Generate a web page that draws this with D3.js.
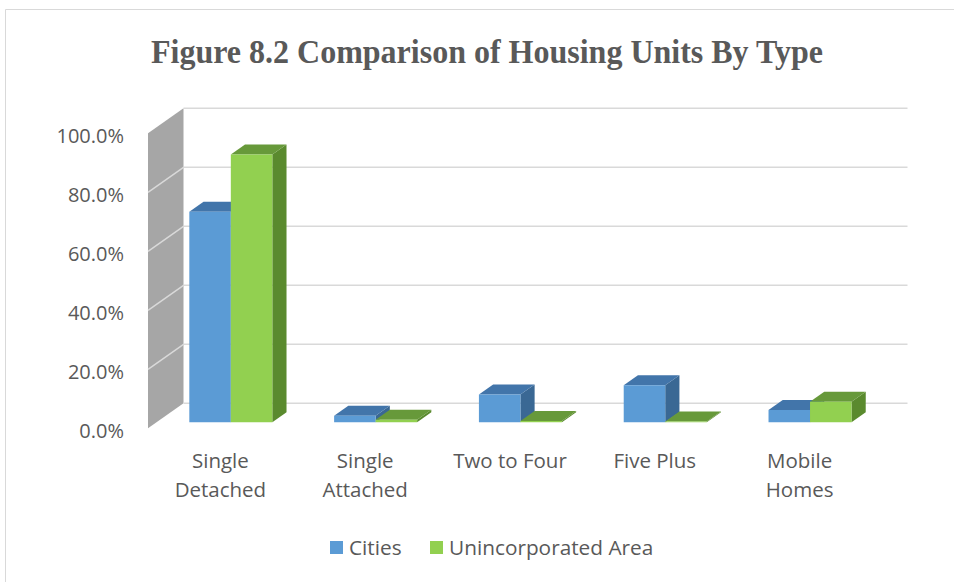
<!DOCTYPE html>
<html>
<head>
<meta charset="utf-8">
<script src="https://cdn.jsdelivr.net/npm/d3@7"></script>
<style>
  html, body { margin: 0; padding: 0; background: #ffffff; }
  svg { display: block; }
</style>
</head>
<body>
<script>
// ---- Data ----
const categories = ["Single Detached", "Single Attached", "Two to Four", "Five Plus", "Mobile Homes"];
const categoryLines = [["Single", "Detached"], ["Single", "Attached"], ["Two to Four"], ["Five Plus"], ["Mobile", "Homes"]];
const seriesNames = ["Cities", "Unincorporated Area"];
const cities = [71.4, 2.2, 9.4, 12.6, 4.2];
const unincorporated = [90.8, 0.9, 0.4, 0.3, 7.0];
const tickValues = [0, 20, 40, 60, 80, 100];
const tickLabels = ["0.0%", "20.0%", "40.0%", "60.0%", "80.0%", "100.0%"];
const titleText = "Figure 8.2 Comparison of Housing Units By Type";

// ---- Styles ----
const W = 954, H = 582;
const colors = {
  "Cities": { front: "#5B9BD5", top: "#4275AA", side: "#3A6894" },
  "Unincorporated Area": { front: "#92D050", top: "#67993A", side: "#5A8A2E" }
};
const textColor = "#595959";

const svg = d3.select("body").append("svg").attr("width", W).attr("height", H);

// border
svg.append("path").attr("d", `M5.5,${H} V9.5 H${W}`).attr("fill", "none")
  .attr("stroke", "#D9D9D9").attr("stroke-width", 1);

// title
svg.append("text").attr("x", 487).attr("y", 63).attr("text-anchor", "middle")
  .attr("font-family", "'Liberation Serif', 'Times New Roman', serif")
  .attr("font-weight", "bold").attr("font-size", 34).attr("fill", textColor)
  .attr("textLength", 672).attr("lengthAdjust", "spacingAndGlyphs")
  .text(titleText);

// ---- Scales / projection ----
const y = d3.scaleLinear().domain([0, 100]).range([428.3, 133.3]);
const x = d3.scaleBand().domain(categories).range([148, 872]);
const xs = d3.scaleBand().domain(seriesNames).range([32.8, 32.8 + 83]);
const depth = d3.scaleLinear().domain([0, 1]).range([0, 1]);
const DX = 35.5, DY = -25;
const d0 = 0.24, d1 = 0.64;
const P = (px, v, d) => [px + DX * depth(d), y(v) + DY * depth(d)];
const poly = pts => "M" + pts.map(p => p.join(",")).join("L") + "Z";

// side wall
const x0 = x.range()[0], x1 = x.range()[1];
svg.append("path")
  .attr("d", poly([P(x0, 0, 0), P(x0, 0, 1), P(x0, 100, 1), P(x0, 100, 0)]))
  .attr("fill", "#A6A6A6");

// wall lines and back gridlines
tickValues.forEach(t => {
  if (t > 0 && t < 100) {
    const a = P(x0, t, 0), b = P(x0, t, 1);
    svg.append("line").attr("x1", a[0]).attr("y1", a[1]).attr("x2", b[0]).attr("y2", b[1])
      .attr("stroke", "#D9D9D9").attr("stroke-width", 1.5);
  }
  const c = P(x0, t, 1), e = P(x1, t, 1);
  svg.append("line").attr("x1", c[0]).attr("y1", c[1]).attr("x2", e[0]).attr("y2", e[1])
    .attr("stroke", "#D9D9D9").attr("stroke-width", 1.5);
});

// tick labels
const labelFont = "'Open Sans', 'Noto Sans', sans-serif";
tickValues.forEach((t, i) => {
  svg.append("text").attr("x", 124).attr("y", y(t) + 3).attr("dy", "0.35em")
    .attr("text-anchor", "end").attr("font-family", labelFont).attr("font-size", 20)
    .attr("fill", textColor).text(tickLabels[i]);
});

// bars
const seriesData = { "Cities": cities, "Unincorporated Area": unincorporated };
categories.forEach((cat, ci) => {
  seriesNames.forEach(s => {
    const v = seriesData[s][ci];
    const xl = x(cat) + xs(s), xr = xl + xs.bandwidth();
    const g = svg.append("g");
    g.append("path").attr("d", poly([P(xr, 0, d0), P(xr, 0, d1), P(xr, v, d1), P(xr, v, d0)]))
      .attr("fill", colors[s].side);
    g.append("path").attr("d", poly([P(xl, v, d0), P(xr, v, d0), P(xr, v, d1), P(xl, v, d1)]))
      .attr("fill", colors[s].top);
    g.append("path").attr("d", poly([P(xl, 0, d0), P(xr, 0, d0), P(xr, v, d0), P(xl, v, d0)]))
      .attr("fill", colors[s].front);
  });
});

// category labels
categories.forEach((cat, ci) => {
  const cx = x(cat) + x.bandwidth() / 2;
  const t = svg.append("text").attr("text-anchor", "middle").attr("font-family", labelFont)
    .attr("font-size", 20.5).attr("fill", textColor);
  categoryLines[ci].forEach((ln, li) => {
    t.append("tspan").attr("x", cx).attr("y", 468 + li * 29).text(ln);
  });
});

// legend
const legendItems = [{ name: "Cities", x: 330 }, { name: "Unincorporated Area", x: 430 }];
legendItems.forEach(it => {
  svg.append("rect").attr("x", it.x).attr("y", 541).attr("width", 13).attr("height", 13)
    .attr("fill", colors[it.name].front);
  svg.append("text").attr("x", it.x + 19).attr("y", 555).attr("font-family", labelFont)
    .attr("font-size", 20.8).attr("fill", textColor).text(it.name);
});
</script>
</body>
</html>
